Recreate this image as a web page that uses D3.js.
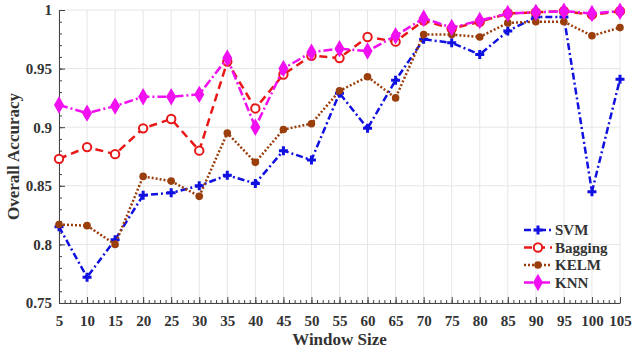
<!DOCTYPE html>
<html>
<head>
<meta charset="utf-8">
<script src="https://cdn.jsdelivr.net/npm/d3@7"></script>
<style>
  body { margin: 0; background: #fff; }
  text { font-family: "Liberation Serif", "Times New Roman", serif; font-weight: bold; fill: #333; }
</style>
</head>
<body>
<div id="chart"></div>
<script>
// Fenstergrössen (x-Achse)
var windowSizes = [5, 10, 15, 20, 25, 30, 35, 40, 45, 50, 55, 60, 65, 70, 75, 80, 85, 90, 95, 100, 105];

// Genauigkeit pro Verfahren
var svm     = [0.815, 0.772, 0.804, 0.842, 0.844, 0.850, 0.859, 0.852, 0.880, 0.872, 0.929, 0.899, 0.940, 0.975, 0.972, 0.962, 0.982, 0.994, 0.994, 0.845, 0.941];
var bagging = [0.873, 0.883, 0.877, 0.899, 0.907, 0.880, 0.956, 0.916, 0.945, 0.961, 0.959, 0.977, 0.973, 0.991, 0.984, 0.990, 0.997, 0.998, 0.999, 0.996, 0.999];
var kelm    = [0.817, 0.816, 0.800, 0.858, 0.854, 0.841, 0.895, 0.870, 0.898, 0.903, 0.931, 0.943, 0.925, 0.979, 0.979, 0.977, 0.989, 0.990, 0.990, 0.978, 0.985];
var knn     = [0.919, 0.912, 0.918, 0.926, 0.926, 0.928, 0.959, 0.900, 0.950, 0.964, 0.967, 0.965, 0.978, 0.993, 0.985, 0.991, 0.997, 0.998, 0.999, 0.997, 0.999];

var yTicks = [0.75, 0.8, 0.85, 0.9, 0.95, 1];
var yTickLabels = ["0.75", "0.8", "0.85", "0.9", "0.95", "1"];

var series = [
  {name: "SVM",     values: svm,     color: "#1010e0", dash: "7,3,2,3", marker: "plus"},
  {name: "Bagging", values: bagging, color: "#e81818", dash: "8,5",     marker: "circle"},
  {name: "KELM",    values: kelm,    color: "#9a3e0c", dash: "2,2",     marker: "dot"},
  {name: "KNN",     values: knn,     color: "#f010f0", dash: "9,3,2,3", marker: "diamond"}
];

var margin = {top: 10, right: 12, bottom: 48, left: 59},
    width = 632 - margin.left - margin.right,
    height = 351 - margin.top - margin.bottom;

var svg = d3.select("#chart").append("svg")
    .attr("width", 632)
    .attr("height", 351);

var g = svg.append("g")
    .attr("transform", "translate(" + margin.left + "," + margin.top + ")");

var x = d3.scaleLinear().domain([5, 105]).range([0, width]);
var y = d3.scaleLinear().domain([0.75, 1]).range([height, 0]);

// Gitterlinien
g.append("g").selectAll("line").data(windowSizes).enter().append("line")
    .attr("x1", d => x(d)).attr("x2", d => x(d))
    .attr("y1", 0).attr("y2", height)
    .style("stroke", "#e6e6e6").style("stroke-width", 1);
g.append("g").selectAll("line").data(yTicks).enter().append("line")
    .attr("x1", 0).attr("x2", width)
    .attr("y1", d => y(d)).attr("y2", d => y(d))
    .style("stroke", "#e6e6e6").style("stroke-width", 1);

// Achsen: Ticks nach innen
var xMinor = d3.range(5, 106, 1);
var yMinor = d3.range(0.75, 1.0001, 0.01);

var xAxisMinor = g.append("g").attr("transform", "translate(0," + height + ")")
    .call(d3.axisTop(x).tickValues(xMinor).tickSize(3).tickFormat(""));
var xAxis = g.append("g").attr("transform", "translate(0," + height + ")")
    .call(d3.axisBottom(x).tickValues(windowSizes).tickSize(0).tickPadding(12));
xAxis.selectAll(".tick").append("line").attr("y2", -6).attr("stroke", "#444");

var yAxisMinor = g.append("g")
    .call(d3.axisRight(y).tickValues(yMinor).tickSize(3).tickFormat(""));
var yAxis = g.append("g")
    .call(d3.axisLeft(y).tickValues(yTicks).tickSize(0).tickPadding(7)
      .tickFormat((d, i) => yTickLabels[i]));
yAxis.selectAll(".tick").append("line").attr("x2", 6).attr("stroke", "#444");

[xAxisMinor, xAxis, yAxisMinor, yAxis].forEach(function(a) {
  a.selectAll("path").attr("stroke", "#444");
  a.selectAll(".tick line").attr("stroke", "#444");
});
xAxisMinor.select(".domain").remove();
yAxisMinor.select(".domain").remove();

xAxis.selectAll("text").style("font-size", "15px").attr("fill", "#333");
yAxis.selectAll("text").style("font-size", "15px").attr("fill", "#333");

// Achsentitel
svg.append("text")
    .attr("x", margin.left + width / 2).attr("y", 345)
    .attr("text-anchor", "middle").style("font-size", "17px")
    .text("Window Size");
svg.append("text")
    .attr("transform", "translate(19," + (margin.top + height / 2) + ") rotate(-90)")
    .attr("text-anchor", "middle").style("font-size", "17px")
    .text("Overall Accuracy");

// Linien
var line = d3.line()
    .x((d, i) => x(windowSizes[i]))
    .y(d => y(d));

function drawMarker(sel, s) {
  if (s.marker === "plus") {
    sel.append("path").attr("d", "M-4.5,0H4.5M0,-4.5V4.5")
      .style("stroke", s.color).style("stroke-width", 3).style("fill", "none");
  } else if (s.marker === "circle") {
    sel.append("circle").attr("r", 4.2)
      .style("stroke", s.color).style("stroke-width", 2).style("fill", "#fff");
  } else if (s.marker === "dot") {
    sel.append("circle").attr("r", 3.8)
      .style("fill", s.color);
  } else {
    sel.append("path").attr("d", d3.symbol().type(d3.symbolDiamond).size(60))
      .style("fill", s.color).style("stroke", s.color).style("stroke-width", 1.5);
  }
}

series.forEach(function(s) {
  g.append("path")
    .datum(s.values)
    .attr("d", line)
    .style("fill", "none")
    .style("stroke", s.color)
    .style("stroke-width", 2.5)
    .style("stroke-dasharray", s.dash);

  g.append("g").selectAll("g")
    .data(s.values)
    .enter()
    .append("g")
    .attr("transform", (d, i) => "translate(" + x(windowSizes[i]) + "," + y(d) + ")")
    .each(function() { drawMarker(d3.select(this), s); });
});

// Legende
var legend = svg.append("g")
    .attr("transform", "translate(524,230)")
    .selectAll("g")
    .data(series)
    .enter()
    .append("g")
    .attr("transform", (d, i) => "translate(0," + (i * 17.5) + ")");

legend.append("line")
    .attr("x1", 0).attr("x2", 28).attr("y1", 0).attr("y2", 0)
    .style("stroke", d => d.color).style("stroke-width", 2.5)
    .style("stroke-dasharray", d => d.dash);
legend.append("g").attr("transform", "translate(14,0)")
    .each(function(d) { drawMarker(d3.select(this), d); });
legend.append("text")
    .attr("x", 31).attr("y", 5)
    .style("font-size", "15px")
    .text(d => d.name);
</script>
</body>
</html>
